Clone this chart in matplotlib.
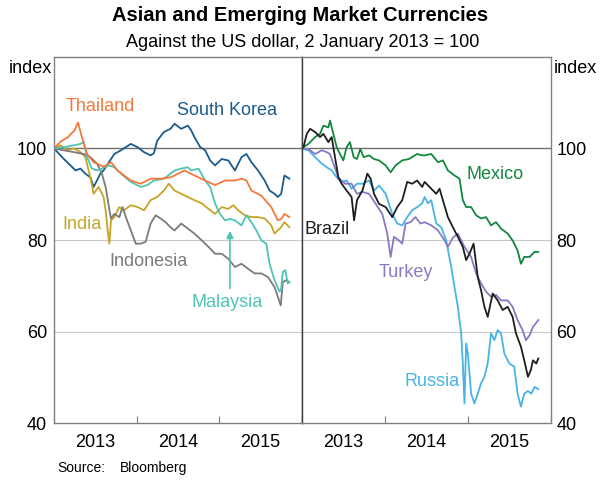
import matplotlib
matplotlib.use("Agg")
import matplotlib.pyplot as plt

plt.rcParams['font.family'] = ['Liberation Sans', 'DejaVu Sans']

# dates as decimal years, values indexed to 2 Jan 2013 = 100
thailand_t = [2013.0, 2013.08, 2013.17, 2013.25, 2013.29, 2013.33, 2013.40, 2013.48, 2013.60, 2013.69,
              2013.77, 2013.93, 2014.05, 2014.17, 2014.30, 2014.41, 2014.46, 2014.58, 2014.70, 2014.83,
              2014.95, 2015.07, 2015.19, 2015.27, 2015.33, 2015.39, 2015.51, 2015.63, 2015.71, 2015.75,
              2015.79, 2015.85]
thailand_v = [100, 101.5, 102.5, 104, 105.7, 103, 98.8, 97, 96, 97,
              95.2, 93, 92.3, 93.4, 93.4, 93.7, 94.1, 95.2, 94.1, 93,
              92, 93, 93, 93.4, 93, 90.8, 89.7, 87.2, 84.3, 84.6,
              85.7, 85]

korea_t = [2013.0, 2013.12, 2013.20, 2013.26, 2013.32, 2013.38, 2013.44, 2013.48, 2013.52, 2013.56,
           2013.60, 2013.665, 2013.73, 2013.81, 2013.93, 2014.01, 2014.09, 2014.17, 2014.21, 2014.25,
           2014.33, 2014.41, 2014.46, 2014.54, 2014.62, 2014.66, 2014.70, 2014.77, 2014.83, 2014.89,
           2014.95, 2015.03, 2015.11, 2015.19, 2015.27, 2015.33, 2015.39, 2015.47, 2015.55, 2015.61,
           2015.67, 2015.71, 2015.75, 2015.79, 2015.85]
korea_v = [100, 97.7, 96.3, 95.2, 95.6, 94.5, 93.7, 91.6, 93, 94.5,
           95.2, 97, 98.8, 99.6, 101, 100.3, 99.2, 98.5, 99, 101.7,
           103.6, 104.3, 105.4, 104.3, 105, 104, 102.5, 100.3, 99.6, 97.4,
           96.3, 97.7, 97.4, 95.2, 98.1, 98.8, 97, 95.2, 93, 90.8,
           90.1, 89.4, 90.1, 94.1, 93.4]

malaysia_t = [2013.0, 2013.12, 2013.24, 2013.32, 2013.36, 2013.40, 2013.46, 2013.52, 2013.58, 2013.665,
              2013.73, 2013.81, 2013.93, 2014.05, 2014.13, 2014.21, 2014.33, 2014.41, 2014.46, 2014.54,
              2014.62, 2014.66, 2014.75, 2014.83, 2014.89, 2014.95, 2015.01, 2015.07, 2015.13, 2015.19,
              2015.27, 2015.33, 2015.39, 2015.45, 2015.51, 2015.57, 2015.61, 2015.67, 2015.73, 2015.75,
              2015.77, 2015.80, 2015.83, 2015.85]
malaysia_v = [100, 100.3, 100.7, 101, 101.4, 98.1, 95.6, 95.2, 95.6, 96.3,
              95.9, 94.5, 92.7, 91.6, 92, 93, 93.4, 94.5, 95.2, 95.6,
              95.9, 95.2, 95.6, 93, 91.6, 88, 85.7, 84.3, 84.6, 84.3,
              83.2, 85.4, 83.9, 82.1, 79.9, 79.2, 74.8, 71.2, 68.7, 69.4,
              73, 73.4, 70.5, 70.8]

india_t = [2013.0, 2013.08, 2013.16, 2013.24, 2013.32, 2013.38, 2013.44, 2013.48, 2013.54, 2013.60,
           2013.625, 2013.65, 2013.67, 2013.69, 2013.73, 2013.79, 2013.85, 2013.93, 2014.01, 2014.09,
           2014.17, 2014.25, 2014.33, 2014.39, 2014.46, 2014.54, 2014.62, 2014.70, 2014.79, 2014.87,
           2014.95, 2015.03, 2015.11, 2015.17, 2015.23, 2015.31, 2015.39, 2015.47, 2015.55, 2015.63,
           2015.67, 2015.71, 2015.75, 2015.79, 2015.85]
india_v = [100, 100.7, 99.6, 100, 99.2, 98.1, 93.7, 90.1, 91.6, 89.4,
           86.5, 82.1, 79.2, 84.3, 85, 87.2, 86.5, 87.6, 87.2, 86.5,
           88.7, 89.4, 90.8, 92.3, 90.8, 90.1, 89.4, 88.7, 88, 86.8,
           85.7, 87.2, 86.8, 87.6, 86.5, 85.4, 85, 85, 84.7, 83.2,
           81.4, 82.1, 82.8, 83.9, 82.8]

indonesia_t = [2013.0, 2013.12, 2013.24, 2013.36, 2013.44, 2013.52, 2013.58, 2013.625, 2013.665, 2013.69,
               2013.73, 2013.79, 2013.83, 2013.87, 2013.93, 2013.99, 2014.05, 2014.11, 2014.17, 2014.23,
               2014.29, 2014.35, 2014.41, 2014.46, 2014.54, 2014.62, 2014.70, 2014.79, 2014.87, 2014.95,
               2015.03, 2015.11, 2015.19, 2015.27, 2015.35, 2015.43, 2015.51, 2015.59, 2015.67, 2015.71,
               2015.745, 2015.77, 2015.81, 2015.85]
indonesia_v = [100, 99.6, 99.2, 98.8, 98.1, 96.7, 94.5, 91.6, 87.2, 84.7,
               85.7, 85, 87.2, 85, 82.1, 79.2, 79.2, 79.6, 83.6, 85.4,
               84.7, 83.9, 82.8, 82.1, 83.6, 82.5, 81.4, 79.9, 78.5, 77,
               77, 75.9, 74.1, 74.8, 73.7, 72.7, 72.7, 71.9, 69.7, 67.6,
               65.7, 70.8, 71.2, 70.8]

mexico_t = [2013.0, 2013.02, 2013.08, 2013.16, 2013.22, 2013.26, 2013.32, 2013.34, 2013.38, 2013.42,
            2013.46, 2013.50, 2013.54, 2013.58, 2013.625, 2013.665, 2013.705, 2013.746, 2013.81, 2013.87,
            2013.93, 2014.01, 2014.07, 2014.13, 2014.21, 2014.29, 2014.39, 2014.45, 2014.48, 2014.56,
            2014.64, 2014.70, 2014.76, 2014.84, 2014.90, 2014.94, 2014.98, 2015.04, 2015.10, 2015.16,
            2015.22, 2015.28, 2015.34, 2015.40, 2015.48, 2015.54, 2015.60, 2015.64, 2015.68, 2015.745,
            2015.805, 2015.85]
mexico_v = [100, 100.3, 101, 102.5, 103.2, 105, 104.6, 106.1, 103.2, 100.3,
            98.8, 97.4, 100.3, 101.4, 98.1, 97.7, 99.9, 98.1, 98.5, 97.7,
            97.4, 96.3, 94.8, 96.3, 97.4, 97.7, 98.8, 98.5, 98.5, 98.8,
            97, 97.4, 95.2, 94.1, 93.4, 88.7, 87.2, 87.2, 85.4, 84.7,
            85, 83.2, 83.9, 82.5, 81.4, 79.9, 77.7, 74.8, 76.3, 76.3,
            77.4, 77.4]

brazil_t = [2013.0, 2013.02, 2013.06, 2013.10, 2013.16, 2013.22, 2013.26, 2013.32, 2013.36, 2013.40,
            2013.44, 2013.48, 2013.54, 2013.60, 2013.63, 2013.665, 2013.73, 2013.79, 2013.83, 2013.87,
            2013.93, 2014.01, 2014.09, 2014.15, 2014.21, 2014.27, 2014.33, 2014.39, 2014.45, 2014.48,
            2014.56, 2014.62, 2014.66, 2014.70, 2014.76, 2014.82, 2014.88, 2014.94, 2014.98, 2015.02,
            2015.07, 2015.12, 2015.16, 2015.20, 2015.24, 2015.30, 2015.36, 2015.42, 2015.48, 2015.54,
            2015.58, 2015.64, 2015.68, 2015.725, 2015.76, 2015.785, 2015.825, 2015.85]
brazil_v = [100, 100.3, 103.2, 104.3, 103.6, 102.5, 103.2, 101.4, 102.5, 98.1,
            93.7, 92.3, 90.8, 89.4, 84.3, 88.7, 90.8, 94.5, 93.4, 90.1,
            87.9, 87.2, 85, 87.2, 88.7, 92.7, 92.3, 93, 91.6, 92.7,
            91.2, 90.1, 91.2, 88.7, 85, 82.8, 80.7, 78.5, 75.6, 77,
            79.2, 71.9, 69, 65.4, 63.2, 68.3, 66.8, 64.7, 65.4, 63.2,
            59.6, 56.7, 53.7, 50.1, 51.6, 53.7, 53, 54.1]

turkey_t = [2013.0, 2013.08, 2013.16, 2013.24, 2013.30, 2013.34, 2013.38, 2013.44, 2013.52, 2013.60,
            2013.665, 2013.73, 2013.81, 2013.89, 2013.97, 2014.03, 2014.07, 2014.11, 2014.17, 2014.21,
            2014.25, 2014.31, 2014.37, 2014.43, 2014.48, 2014.56, 2014.64, 2014.72, 2014.76, 2014.82,
            2014.88, 2014.96, 2015.04, 2015.10, 2015.16, 2015.22, 2015.28, 2015.34, 2015.40, 2015.48,
            2015.54, 2015.60, 2015.66, 2015.70, 2015.745, 2015.785, 2015.85]
turkey_v = [100, 99.9, 98.8, 99.6, 99.2, 98.8, 96.7, 93.7, 92.3, 92.3,
            90.1, 90.5, 90.1, 87.9, 85.7, 81.4, 76.3, 80.7, 79.9, 79.2,
            83.6, 83.9, 85, 83.6, 83.9, 83.2, 82.1, 79.9, 78.5, 80.5,
            81.4, 78.5, 76.3, 72.7, 70.5, 68.7, 67.6, 68, 66.8, 66.8,
            65.4, 62.5, 60.3, 58.1, 59.2, 61, 62.5]

russia_t = [2013.0, 2013.08, 2013.16, 2013.24, 2013.30, 2013.36, 2013.42, 2013.48, 2013.54, 2013.60,
            2013.665, 2013.73, 2013.81, 2013.87, 2013.93, 2014.01, 2014.09, 2014.15, 2014.21, 2014.27,
            2014.33, 2014.39, 2014.45, 2014.48, 2014.52, 2014.56, 2014.62, 2014.68, 2014.74, 2014.80,
            2014.84, 2014.88, 2014.92, 2014.94, 2014.96, 2014.98, 2015.00, 2015.04, 2015.08, 2015.12,
            2015.16, 2015.20, 2015.24, 2015.28, 2015.32, 2015.36, 2015.40, 2015.44, 2015.50, 2015.56,
            2015.60, 2015.64, 2015.68, 2015.725, 2015.765, 2015.805, 2015.85]
russia_v = [100, 99.6, 98.1, 96.7, 95.9, 95.2, 93.7, 92.7, 93, 91.2,
            92.3, 92.3, 93, 90.8, 91.9, 90.1, 85.7, 83.6, 83.2, 85,
            86.5, 87.2, 88, 89.4, 88, 88.7, 83.6, 82.8, 79.9, 74.1,
            69.7, 65.4, 59.6, 53, 44.3, 57.4, 55.2, 46.4, 44.3, 46.4,
            48.7, 50.1, 53, 59.6, 58.1, 60.3, 59.6, 55.2, 53, 52.3,
            46.4, 43.6, 46.4, 47, 46.4, 47.9, 47.4]

years = [2013, 2014, 2015]
yticks = [40, 60, 80, 100]

fig = plt.figure(figsize=(6, 4.9), dpi=100)
axl = fig.add_axes([0.09, 0.1367, 0.413, 0.7470])
axr = fig.add_axes([0.503, 0.1367, 0.415, 0.7470])

axl.plot(korea_t, korea_v, color='#1c5b8c', lw=1.3)
axl.plot(india_t, india_v, color='#c5a526', lw=1.3)
axl.plot(indonesia_t, indonesia_v, color='#7b7b7b', lw=1.3)
axl.plot(malaysia_t, malaysia_v, color='#4fc4b4', lw=1.3)
axl.plot(thailand_t, thailand_v, color='#f5783a', lw=1.3)

axr.plot(mexico_t, mexico_v, color='#12873e', lw=1.3)
axr.plot(russia_t, russia_v, color='#47b3e6', lw=1.3)
axr.plot(turkey_t, turkey_v, color='#8a79c2', lw=1.3)
axr.plot(brazil_t, brazil_v, color='#1e1e1e', lw=1.3)

for ax in (axl, axr):
    ax.set_xlim(2013, 2016)
    ax.set_ylim(40, 120)
    ax.set_yticks(yticks)
    for y in (60, 80):
        ax.axhline(y, color='#c8c8c8', lw=0.8, zorder=0)
    ax.axhline(100, color='#707070', lw=1.0, zorder=0)
    ax.set_xticks([2013, 2014, 2015, 2016])
    ax.set_xticks([y + 0.5 for y in years], minor=True)
    ax.set_xticklabels([])
    ax.set_xticklabels([str(y) for y in years], minor=True)
    ax.tick_params(axis='x', which='major', direction='in', length=5, color='#808080')
    ax.tick_params(axis='x', which='minor', length=0, pad=8, labelsize=13)
    ax.tick_params(axis='y', length=0, labelsize=13)
    for s in ax.spines.values():
        s.set_color('#808080')
        s.set_linewidth(1.0)

axl.tick_params(axis='y', pad=5)
axr.yaxis.tick_right()
axr.tick_params(axis='y', pad=4)
axr.spines['left'].set_color('#404040')
axl.spines['right'].set_color('#404040')

fig.text(0.087, 0.861, 'index', ha='right', va='center', fontsize=13)
fig.text(0.923, 0.861, 'index', ha='left', va='center', fontsize=13)

axl.text(2013.56, 109.2, 'Thailand', color='#f5783a', ha='center', va='center', fontsize=13)
axl.text(2015.10, 108.3, 'South Korea', color='#1c5b8c', ha='center', va='center', fontsize=13)
axl.text(2013.34, 83.4, 'India', color='#c5a526', ha='center', va='center', fontsize=13)
axl.text(2014.15, 75.3, 'Indonesia', color='#7b7b7b', ha='center', va='center', fontsize=13)
axl.text(2015.10, 66.4, 'Malaysia', color='#4fc4b4', ha='center', va='center', fontsize=13)
axl.annotate('', xy=(2015.13, 82.6), xytext=(2015.13, 68.8),
             arrowprops=dict(arrowstyle='-|>', color='#4fc4b4', lw=1.2, mutation_scale=10))

axr.text(2015.33, 94.3, 'Mexico', color='#12873e', ha='center', va='center', fontsize=13)
axr.text(2013.31, 82.3, 'Brazil', color='#1e1e1e', ha='center', va='center', fontsize=13)
axr.text(2014.25, 73.0, 'Turkey', color='#8a79c2', ha='center', va='center', fontsize=13)
axr.text(2014.57, 49.0, 'Russia', color='#47b3e6', ha='center', va='center', fontsize=13)

fig.text(0.5, 0.969, 'Asian and Emerging Market Currencies', ha='center', va='center',
         fontsize=14.5, fontweight='bold')
fig.text(0.505, 0.914, 'Against the US dollar, 2 January 2013 = 100', ha='center', va='center',
         fontsize=13)
fig.text(0.095, 0.045, 'Source:', ha='left', va='center', fontsize=10)
fig.text(0.2, 0.045, 'Bloomberg', ha='left', va='center', fontsize=10)

fig.savefig('out.png', dpi=100)
